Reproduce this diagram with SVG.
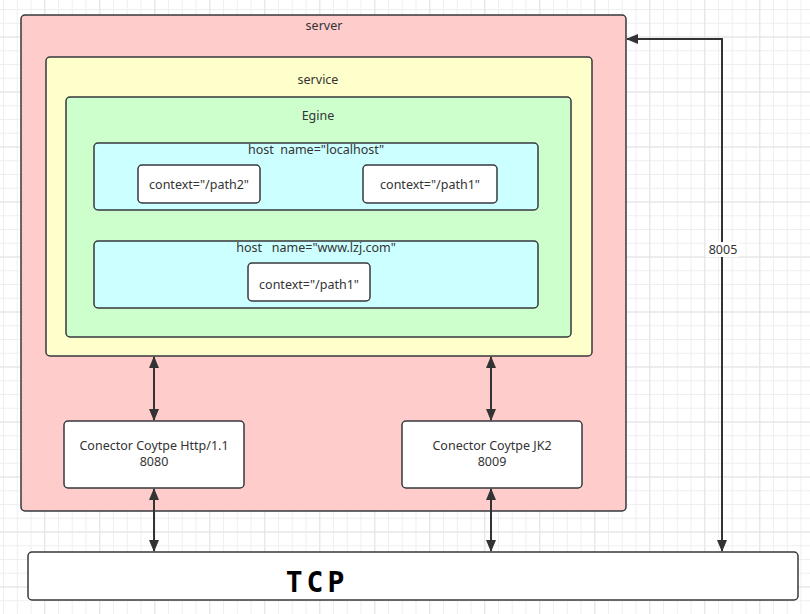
<svg xmlns="http://www.w3.org/2000/svg" width="810" height="614" viewBox="0 0 810 614">
<defs>
<pattern id="gminor" x="3" y="9" width="13.75" height="13.75" patternUnits="userSpaceOnUse">
<path d="M0 0.5H13.75M0.5 0V13.75" fill="none" stroke="#efefef" stroke-width="1"/>
</pattern>
<pattern id="gmajor" x="44.3" y="36.5" width="55" height="55" patternUnits="userSpaceOnUse">
<path d="M0 0.5H55M0.5 0V55" fill="none" stroke="#e3e3e3" stroke-width="1"/>
</pattern>
<marker id="ah" viewBox="0 0 12 10" refX="11" refY="5" markerWidth="12" markerHeight="10" markerUnits="userSpaceOnUse" orient="auto-start-reverse">
<path d="M0 0L12 5L0 10Z" fill="#333333"/>
</marker>
<style>
.box{stroke:#36393d;stroke-width:1.5}
.t{font-family:"Noto Sans","Liberation Sans",sans-serif;font-size:12.5px;fill:#333333;text-anchor:middle;white-space:pre}
.ln{fill:none;stroke:#333333;stroke-width:2}
</style>
</defs>
<rect width="810" height="614" fill="#ffffff"/>
<rect width="810" height="614" fill="url(#gminor)"/>
<rect width="810" height="614" fill="url(#gmajor)"/>

<g id="server">
<rect class="box" x="21" y="15" width="605" height="496" rx="4" fill="#ffcccc"/>
<text class="t" x="324" y="30">server</text>
</g>
<g id="service">
<rect class="box" x="46" y="57" width="546" height="299" rx="4" fill="#ffffcc"/>
<text class="t" x="318" y="84">service</text>
</g>
<g id="engine">
<rect class="box" x="66" y="97" width="505" height="240" rx="4" fill="#ccffcc"/>
<text class="t" x="318" y="120">Egine</text>
</g>
<g id="host-localhost">
<rect class="box" x="94" y="143" width="444" height="67" rx="4" fill="#ccffff"/>
<text class="t" x="316" y="154" xml:space="preserve">host  name="localhost"</text>
</g>
<g id="ctx-path2">
<rect class="box" x="138" y="165" width="122" height="38" rx="4" fill="#ffffff"/>
<text class="t" x="199" y="189">context="/path2"</text>
</g>
<g id="ctx-path1-a">
<rect class="box" x="363" y="165" width="134" height="38" rx="4" fill="#ffffff"/>
<text class="t" x="430" y="189">context="/path1"</text>
</g>
<g id="host-lzj">
<rect class="box" x="94" y="241" width="444" height="67" rx="4" fill="#ccffff"/>
<text class="t" x="316" y="252" xml:space="preserve">host   name="www.lzj.com"</text>
</g>
<g id="ctx-path1-b">
<rect class="box" x="248" y="263" width="122" height="38" rx="4" fill="#ffffff"/>
<text class="t" x="309" y="289">context="/path1"</text>
</g>
<g id="conn-http">
<rect class="box" x="64" y="421" width="180" height="67" rx="4" fill="#ffffff"/>
<text class="t" x="154" y="450">Conector Coytpe Http/1.1</text>
<text class="t" x="154" y="466">8080</text>
</g>
<g id="conn-jk2">
<rect class="box" x="402" y="421" width="180" height="67" rx="4" fill="#ffffff"/>
<text class="t" x="492" y="450">Conector Coytpe JK2</text>
<text class="t" x="492" y="466">8009</text>
</g>
<g id="tcp">
<rect class="box" x="28" y="552" width="770" height="48" rx="4" fill="#ffffff"/>
<text x="317" y="592" font-family="'DejaVu Sans Mono','Liberation Mono',monospace" font-weight="bold" font-size="28" letter-spacing="4" text-anchor="middle" fill="#000000">TCP</text>
</g>

<g id="connectors">
<path class="ln" d="M154 357V420" marker-start="url(#ah)" marker-end="url(#ah)"/>
<path class="ln" d="M491 357V420" marker-start="url(#ah)" marker-end="url(#ah)"/>
<path class="ln" d="M154 489V551" marker-start="url(#ah)" marker-end="url(#ah)"/>
<path class="ln" d="M491 489V551" marker-start="url(#ah)" marker-end="url(#ah)"/>
<path class="ln" d="M627 39H722V551" marker-start="url(#ah)" marker-end="url(#ah)"/>
<rect x="706" y="242" width="33" height="15" fill="#ffffff"/>
<text class="t" x="723" y="254">8005</text>
</g>
</svg>
